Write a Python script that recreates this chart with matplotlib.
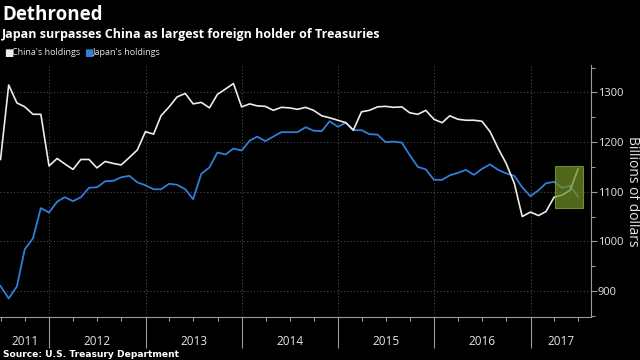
import matplotlib
matplotlib.use("Agg")
import matplotlib.pyplot as plt
import matplotlib.dates as mdates
import matplotlib.patches as mpatches
import matplotlib.transforms as mtransforms
import pandas as pd

# monthly holdings, Jun 2011 - Jun 2017 (billions of dollars)
months = pd.date_range("2011-06-30", periods=73, freq="ME")

china = [1165, 1315, 1279, 1271, 1256, 1256, 1152, 1167, 1156, 1145,
         1165, 1165, 1148, 1161, 1157, 1154, 1169, 1184, 1221, 1216,
         1253, 1271, 1291, 1298, 1277, 1280, 1269, 1296, 1307, 1318,
         1271, 1277, 1273, 1272, 1264, 1270, 1269, 1266, 1270, 1264,
         1253, 1249, 1244, 1239, 1224, 1261, 1264, 1271, 1272, 1270,
         1271, 1259, 1256, 1264, 1246, 1239, 1253, 1246, 1244, 1244,
         1242, 1221, 1187, 1157, 1117, 1050, 1059, 1052, 1060, 1089,
         1093, 1103, 1146]

japan = [910, 885, 909, 984, 1006, 1067, 1058, 1080, 1089, 1081,
         1089, 1108, 1109, 1121, 1122, 1129, 1132, 1119, 1113, 1105,
         1105, 1116, 1114, 1105, 1085, 1136, 1149, 1179, 1175, 1187,
         1183, 1203, 1211, 1202, 1211, 1220, 1220, 1220, 1230, 1223,
         1222, 1242, 1231, 1239, 1224, 1224, 1216, 1215, 1200, 1201,
         1199, 1174, 1150, 1145, 1124, 1124, 1133, 1138, 1144, 1134,
         1146, 1155, 1144, 1137, 1132, 1109, 1091, 1103, 1117, 1120,
         1108, 1112, 1090]

years = [2011, 2012, 2013, 2014, 2015, 2016, 2017]
y_ticks = [900, 1000, 1100, 1200, 1300]

bg = "black"
txt = "#e6e6e6"
grid_c = "#4a4a4a"
china_c = "#ececec"
japan_c = "#2f7fd8"

x_start = pd.Timestamp("2011-06-28")
x_end = pd.Timestamp("2017-08-17")

fig = plt.figure(figsize=(6.4, 3.6), dpi=100, facecolor=bg)
ax = fig.add_axes([0.0, 0.12, 0.923, 0.699], facecolor=bg)

ax.plot(months, japan, color=japan_c, lw=1.3, zorder=3)
ax.plot(months, china, color=china_c, lw=1.2, zorder=4)

# highlight box round the last months
b0 = mdates.date2num(pd.Timestamp("2017-04-05"))
b1 = mdates.date2num(pd.Timestamp("2017-07-17"))
box = mpatches.Rectangle((b0, 1067), b1 - b0, 85, facecolor="#6f8e26",
                         edgecolor="#8fb238", lw=0.8, alpha=0.72, zorder=5)
ax.add_patch(box)

ax.set_xlim(x_start, x_end)
ax.set_ylim(848, 1355)

# y axis on the right
ax.yaxis.tick_right()
ax.set_yticks(y_ticks)
ax.set_yticks(range(850, 1351, 50), minor=True)
ax.tick_params(axis="y", which="major", colors="#9a9a9a", labelcolor=txt,
               length=4, width=0.8, labelsize=8, pad=1)
ax.tick_params(axis="y", which="minor", colors="#9a9a9a", length=3, width=0.8)
for lab in ax.get_yticklabels():
    lab.set_family("Open Sans")

# x axis: long separators at year starts, short quarter ticks
ax.xaxis.set_major_locator(mdates.YearLocator())
ax.xaxis.set_minor_locator(mdates.MonthLocator(bymonth=[1, 4, 7, 10]))
ax.xaxis.set_major_formatter(plt.NullFormatter())
ax.tick_params(axis="x", which="major", colors="#9a9a9a", length=22, width=0.8)
ax.tick_params(axis="x", which="minor", colors="#9a9a9a", length=3, width=0.8)

trans = mtransforms.blended_transform_factory(ax.transData, ax.transAxes)
for yr in years:
    a = max(pd.Timestamp(f"{yr}-01-01"), x_start)
    b = min(pd.Timestamp(f"{yr + 1}-01-01"), x_end)
    mid = a + (b - a) / 2
    ax.text(mid, -0.1, str(yr), transform=trans, ha="center", va="center",
            color=txt, fontsize=8.5, family="Open Sans")

ax.grid(True, which="major", color=grid_c, lw=0.8, linestyle=(0, (1, 2)))

for side in ["top", "left"]:
    ax.spines[side].set_visible(False)
ax.spines["right"].set_color("#9a9a9a")
ax.spines["bottom"].set_color("#9a9a9a")
ax.spines["right"].set_linewidth(0.8)
ax.spines["bottom"].set_linewidth(0.8)

fig.text(0.988, 0.469, "Billions of dollars", rotation=270, ha="center", va="center",
         color=txt, fontsize=10, family="Open Sans")

# titles
fig.text(0.003, 0.958, "Dethroned", color="white", fontsize=13.5,
         fontweight="bold", family="Open Sans", va="center", ha="left")
fig.text(0.003, 0.905, "Japan surpasses China as largest foreign holder of Treasuries",
         color="white", fontsize=9.0, fontweight="bold", family="Open Sans",
         va="center", ha="left")

# legend
fig.text(0.006, 0.853, "\u25A0", color=china_c, fontsize=7, va="center", ha="left")
fig.text(0.019, 0.853, "China's holdings", color=txt, fontsize=6.5,
         family="Open Sans", va="center", ha="left")
fig.text(0.132, 0.853, "\u25A0", color=japan_c, fontsize=7, va="center", ha="left")
fig.text(0.145, 0.853, "Japan's holdings", color=txt, fontsize=6.5,
         family="Open Sans", va="center", ha="left")

fig.text(0.004, 0.016, "Source: U.S. Treasury Department", color="white",
         fontsize=6.6, fontweight="bold", family="DejaVu Sans", va="center", ha="left")

fig.savefig("out.png", dpi=100, facecolor=bg)
